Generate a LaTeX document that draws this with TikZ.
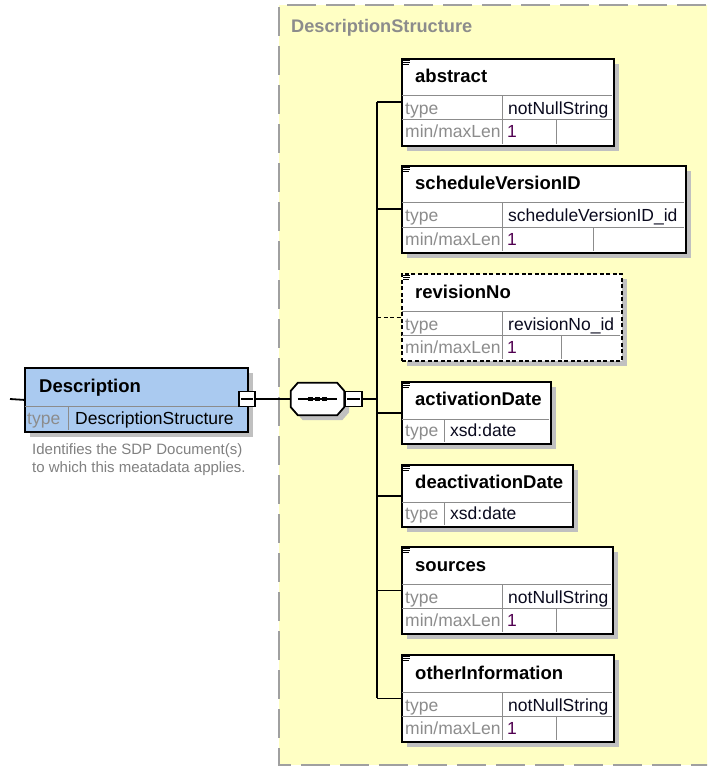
\documentclass[tikz,border=0pt]{standalone}
\usepackage{fontspec}
\setmainfont{Liberation Sans}
\usetikzlibrary{calc,shadows}

\definecolor{groupfill}{RGB}{255,255,196}
\definecolor{groupline}{RGB}{160,160,160}
\definecolor{headfill}{RGB}{170,202,240}
\definecolor{shade}{RGB}{192,192,192}
\definecolor{cellline}{RGB}{140,140,140}
\definecolor{labelgray}{RGB}{140,140,140}
\definecolor{valuecol}{RGB}{10,10,30}
\definecolor{facetcol}{RGB}{80,0,80}
\definecolor{notegray}{RGB}{128,128,128}
\definecolor{headgray}{RGB}{140,140,140}

\tikzset{
  shadowed/.style={drop shadow={shadow xshift=5pt, shadow yshift=-5pt, fill=shade, opacity=1}},
  elbox/.style={draw=black, line width=1.8pt, fill=white, inner sep=0pt, anchor=north west, shadowed},
  descbox/.style={elbox, fill=headfill},
  optional/.style={dash pattern=on 4pt off 2.5pt},
  cellrule/.style={draw=cellline, line width=1pt},
  conn/.style={draw=black, line width=1.8pt},
  iconline/.style={draw=black, line width=0.9pt},
  minusbox/.style={draw=black, line width=1.5pt, fill=white, inner sep=0pt, minimum width=16, minimum height=15},
  minusbar/.style={draw=black, line width=1.1pt},
  titletext/.style={anchor=base west, inner sep=0pt, text=black, font=\fontsize{18.5}{22}\selectfont\bfseries},
  keytext/.style={anchor=base west, inner sep=0pt, text=labelgray, font=\fontsize{17.5}{20}\selectfont},
  valtext/.style={anchor=base west, inner sep=0pt, text=valuecol, font=\fontsize{17.5}{20}\selectfont},
  facettext/.style={anchor=base west, inner sep=0pt, text=facetcol, font=\fontsize{17.5}{20}\selectfont},
  notetext/.style={anchor=base west, inner sep=0pt, text=notegray, font=\fontsize{15}{18}\selectfont},
  headtext/.style={anchor=base west, inner sep=0pt, text=headgray, font=\fontsize{18.2}{22}\selectfont\bfseries},
  groupborder/.style={draw=groupline, line width=2pt, dash pattern=on 29pt off 10pt},
}

% small "documentation" glyph in the top-left corner of an element box
\newcommand\xsdicon[1]{%
  \draw[iconline] (403,{#1+2.5}) -- (410,{#1+2.5})
                  (403,{#1+4.5}) -- (410,{#1+4.5})
                  (403,{#1+6.5}) -- (409,{#1+6.5});}

% element with a type row and a min/maxLen facet row
% #1 name, #2 top, #3 right edge, #4 last column x, #5 title, #6 type, #7 extra style
\newcommand\xsdlong[7]{%
  \node[elbox,#7,minimum width={#3-401},minimum height=87] (#1) at (401,#2) {};
  \draw[cellrule] (401.9,{#2+38}) -- ({#3-0.9},{#2+38});
  \draw[cellrule] (401.9,{#2+62}) -- ({#3-0.9},{#2+62});
  \draw[cellrule] (502,{#2+38}) -- (502,{#2+86.1});
  \draw[cellrule] (#4,{#2+62}) -- (#4,{#2+86.1});
  \xsdicon{#2}
  \node[titletext] (#1-title) at (415,{#2+25}) {#5};
  \node[keytext] (#1-typek) at (405,{#2+57}) {type};
  \node[valtext] (#1-typev) at (508,{#2+57}) {#6};
  \node[keytext] (#1-lenk) at (405,{#2+80}) {min/maxLen};
  \node[facettext] (#1-lenv) at (507,{#2+80}) {1};
}

% element with a single type row
% #1 name, #2 top, #3 right edge, #4 title, #5 type
\newcommand\xsdshort[5]{%
  \node[elbox,minimum width={#3-401},minimum height=62] (#1) at (401,#2) {};
  \draw[cellrule] (401.9,{#2+38}) -- ({#3-0.9},{#2+38});
  \draw[cellrule] (444,{#2+38}) -- (444,{#2+61.1});
  \xsdicon{#2}
  \node[titletext] (#1-title) at (415,{#2+24.5}) {#4};
  \node[keytext] (#1-typek) at (405,{#2+55}) {type};
  \node[valtext] (#1-typev) at (450,{#2+55}) {#5};
}

\begin{document}
\begin{tikzpicture}[x=1pt,y=-1pt]
  \useasboundingbox (0,0) rectangle (707,767);
  \clip (0,0) rectangle (707,767);

  % complex type group
  \fill[groupfill] (279,5) rectangle (745,765);
  \draw[groupborder] (745,5) -- (279,5) -- (279,765) -- (745,765);
  \node[headtext] (grouptitle) at (291,33) {DescriptionStructure};

  % root element
  \node[descbox, minimum width=223, minimum height=64] (desc) at (24,367) {};
  \draw[cellrule] (24.9,406) -- (246.1,406);
  \draw[cellrule] (68,406) -- (68,430.1);
  \node[titletext] (desc-title) at (39,392) {Description};
  \node[keytext] (desc-typek) at (27,424) {type};
  \node[valtext, text=black] (desc-typev) at (75,424) {DescriptionStructure};
  \node[notetext] (note1) at (32,454) {Identifies the SDP Document(s)};
  \node[notetext] (note2) at (32,472) {to which this meatadata applies.};

  \coordinate (inlet) at (10,399);
  \draw[conn] (inlet) -- (desc.west);
  \node[minusbox] (descminus) at (247,399) {};
  \draw[minusbar] ($(descminus.west)+(3,0)$) -- ($(descminus.east)+(-3,0)$);

  % sequence compositor
  \node[inner sep=0pt, minimum width=53, minimum height=32] (seq) at (317.5,399) {};
  \path[draw=black, line width=1.8pt, fill=white, shadowed]
    ($(seq.north west)+(7,0)$) -- ($(seq.north east)+(-7,0)$) --
    ($(seq.north east)+(0,8)$) -- ($(seq.south east)+(0,-8)$) --
    ($(seq.south east)+(-7,0)$) -- ($(seq.south west)+(7,0)$) --
    ($(seq.south west)+(0,-8)$) -- ($(seq.north west)+(0,8)$) -- cycle;
  \draw[line width=1.3pt] ($(seq.west)+(7,0)$) -- ($(seq.east)+(-7,0)$);
  \foreach \dx in {-7.3,0,7.3}
    \fill ($(seq.center)+(\dx-2.5,-2)$) rectangle ($(seq.center)+(\dx+2.5,2)$);
  \node[minusbox, minimum width=17, anchor=west] (seqminus) at (seq.east) {};
  \draw[minusbar] ($(seqminus.west)+(3,0)$) -- ($(seqminus.east)+(-3,0)$);
  \draw[conn] (descminus.east) -- (seq.west);

  % child elements
  \xsdlong{abstract}{58}{613}{556}{abstract}{notNullString}{}
  \xsdlong{schedule}{165}{685}{593}{scheduleVersionID}{scheduleVersionID\_id}{}
  \xsdlong{revision}{273}{621}{561}{revisionNo}{revisionNo\_id}{optional}
  \xsdshort{activation}{381}{550}{activationDate}{xsd:date}
  \xsdshort{deactivation}{464}{572}{deactivationDate}{xsd:date}
  \xsdlong{sources}{546}{612}{556}{sources}{notNullString}{}
  \xsdlong{otherinfo}{654}{613}{556}{otherInformation}{notNullString}{}

  % sequence trunk and branches
  \coordinate (trunk) at (377,0);
  \draw[conn] (seqminus.east) -- (trunk |- seqminus.east);
  \draw[conn] (trunk |- abstract.west) -- (trunk |- otherinfo.west);
  \foreach \child in {abstract,schedule,activation,deactivation,sources,otherinfo}
    \draw[conn] (trunk |- \child.west) -- (\child.west);
  \draw[conn, optional, line width=1.3pt] (trunk |- revision.west) -- (revision.west);
\end{tikzpicture}
\end{document}
